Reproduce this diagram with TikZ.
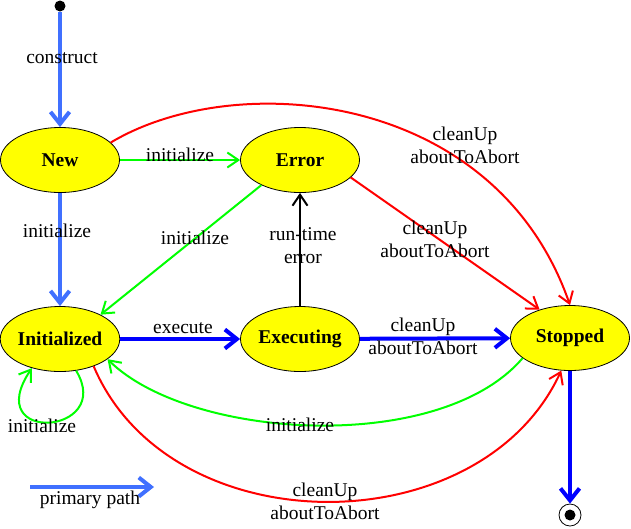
\documentclass[tikz,border=0pt]{standalone}
\usepackage{fontspec}
\setmainfont{Liberation Serif}
\usetikzlibrary{shapes.geometric,arrows.meta}
\definecolor{pblue}{RGB}{64,112,255}
\definecolor{dblue}{RGB}{0,0,255}
\definecolor{lgreen}{RGB}{0,255,0}
\definecolor{sred}{RGB}{255,0,0}
\definecolor{syellow}{RGB}{255,255,0}
\begin{document}
\begin{tikzpicture}[x=1pt,y=-1pt,
  state/.style={ellipse, draw=black, line width=0.8pt, fill=syellow, minimum width=119pt, minimum height=65pt, inner sep=0pt, font=\fontsize{19.5}{23}\selectfont\bfseries},
  lbl/.style={font=\fontsize{19.5}{23}\selectfont, align=center, inner sep=0pt},
  thinarr/.style={line width=2pt, -{Straight Barb[length=11pt,width=15pt]}},
  thickarr/.style={line width=4pt, -{Straight Barb[length=12pt,width=19pt]}},
  greenarr/.style={thinarr, draw=lgreen},
  redarr/.style={thinarr, draw=sred},
  blackarr/.style={thinarr, draw=black},
  primarr/.style={thickarr, draw=pblue},
  darkarr/.style={thickarr, draw=dblue}
]
\useasboundingbox (0,0) rectangle (631,528);

% states
\node[state] (New) at (60,160) {New};
\node[state] (Error) at (300,160) {Error};
\node[state] (Initialized) at (60,339) {Initialized};
\node[state] (Executing) at (300,339) {Executing};
\node[state] (Stopped) at (570,338) {Stopped};

% start / end
\node[circle, fill=black, minimum size=11pt, inner sep=0pt] (start) at (60,6) {};
\node[circle, draw=black, line width=0.8pt, fill=white, minimum size=22pt, inner sep=0pt] (final) at (570,515) {};
\node[circle, fill=black, minimum size=11pt, inner sep=0pt] (finalin) at (570,515) {};

% legend coordinates
\coordinate (lgA) at (30,487);
\coordinate (lgB) at (154,487);

% primary path
\draw[primarr] (start) -- (New);
\draw[primarr] (New) -- (Initialized);
\draw[primarr] (lgA) -- (lgB);

% dark blue
\draw[darkarr] (Initialized) -- (Executing);
\draw[darkarr] (Executing) -- (Stopped);
\draw[darkarr] (Stopped) -- (final);

% green
\draw[greenarr] (New) -- (Error);
\draw[greenarr] (Error.213) -- (Initialized.31);
\draw[greenarr] (Stopped.203) .. controls (440,455) and (190,440) .. (Initialized.337);
\draw[greenarr] (Initialized.297) .. controls (115,435) and (-20,445) .. (Initialized.226);

% black
\draw[blackarr] (Executing) -- (Error);

% red
\draw[redarr] (New.19) .. controls (235,68) and (495,90) .. (Stopped.90);
\draw[redarr] (Error.341) -- (Stopped.137);
\draw[redarr] (Initialized.321) .. controls (170,546) and (480,546) .. (Stopped.255);

% labels
\node[lbl] (lConstruct) at (62,58) {construct};
\node[lbl] (lInit1) at (57,231) {initialize};
\node[lbl] (lInit2) at (180,155) {initialize};
\node[lbl] (lInit3) at (195,238) {initialize};
\node[lbl] (lRun) at (303,246) {run-time\\error};
\node[lbl] (lClean1) at (465,145) {cleanUp\\aboutToAbort};
\node[lbl] (lClean2) at (435,239) {cleanUp\\aboutToAbort};
\node[lbl] (lExec) at (183,328) {execute};
\node[lbl] (lClean3) at (423,336) {cleanUp\\aboutToAbort};
\node[lbl] (lInit4) at (300,425) {initialize};
\node[lbl] (lInit5) at (42,426) {initialize};
\node[lbl] (lClean4) at (325,501) {cleanUp\\aboutToAbort};
\node[lbl] (lPrim) at (90,500) {primary path};
\end{tikzpicture}
\end{document}
